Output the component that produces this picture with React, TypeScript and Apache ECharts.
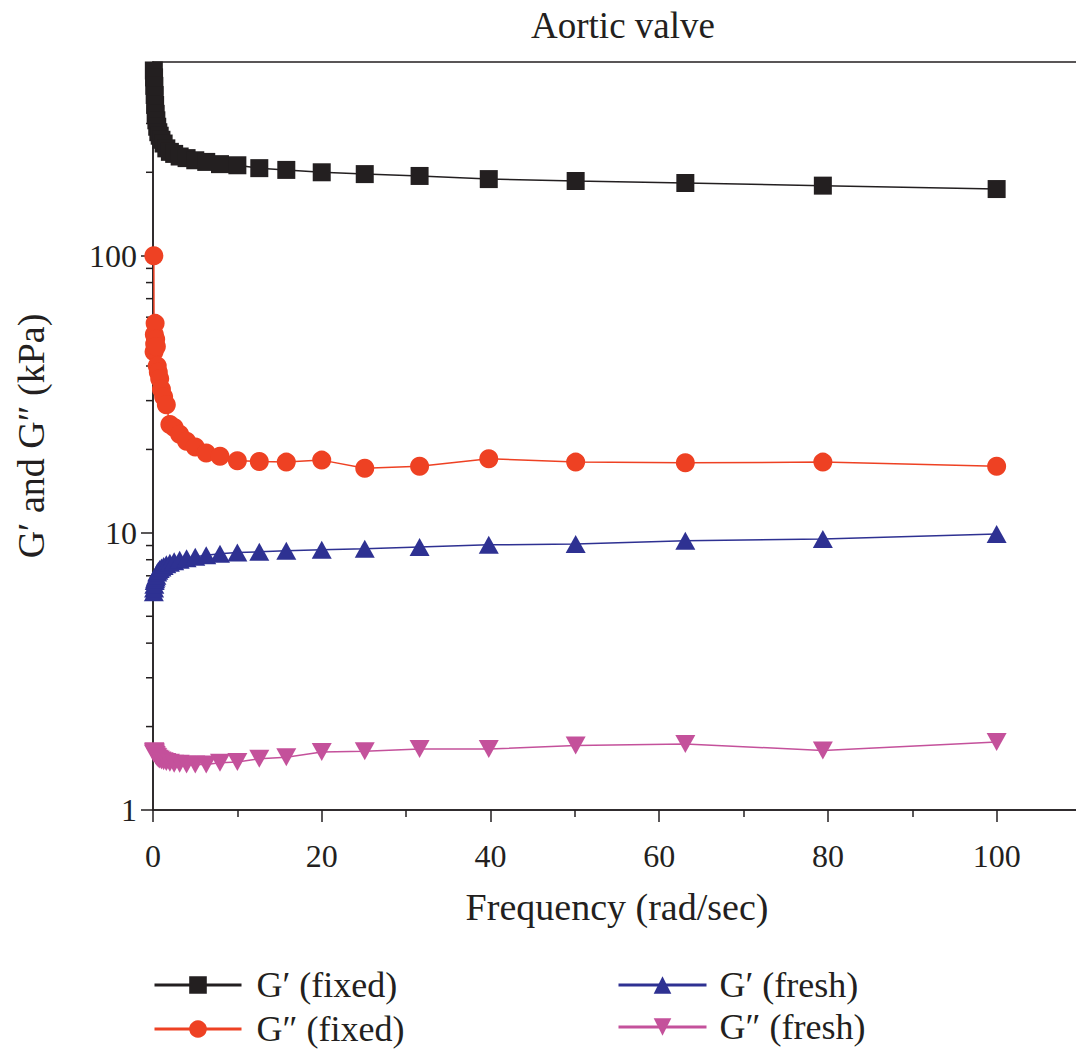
import React, { useEffect, useRef } from "react";
import * as echarts from "echarts";

const freq = [0.1, 0.126, 0.158, 0.2, 0.251, 0.316, 0.398, 0.501, 0.631, 0.794, 1, 1.26, 1.58, 2, 2.51, 3.16, 3.98, 5.01, 6.31, 7.94, 10, 12.6, 15.8, 20, 25.1, 31.6, 39.8, 50.1, 63.1, 79.4, 100];
const gPrimeFixed = [466, 440, 410, 380, 350, 325, 308, 292, 279, 271, 262, 254, 244, 237, 233, 228, 225, 221, 218, 214, 212, 207, 204, 200, 197, 194, 189, 186, 183, 179, 174];
const gDoublePrimeFixed = [100, 45, 52, 48, 57, 50, 47, 40, 38, 36, 33, 31, 29, 24.6, 24, 22.7, 21.4, 20.4, 19.4, 18.9, 18.2, 18.1, 18.0, 18.3, 17.1, 17.4, 18.5, 18.0, 17.9, 18.0, 17.4];
const gPrimeFresh = [6.1, 6.3, 6.5, 6.7, 6.8, 6.9, 7.0, 7.2, 7.3, 7.4, 7.5, 7.6, 7.7, 7.8, 7.9, 8.0, 8.1, 8.2, 8.3, 8.4, 8.49, 8.54, 8.61, 8.69, 8.76, 8.9, 9.05, 9.12, 9.36, 9.5, 9.9];
const gDoublePrimeFresh = [1.6, 1.62, 1.63, 1.62, 1.6, 1.58, 1.56, 1.55, 1.53, 1.52, 1.51, 1.5, 1.49, 1.48, 1.47, 1.47, 1.46, 1.46, 1.46, 1.48, 1.49, 1.53, 1.55, 1.62, 1.63, 1.66, 1.66, 1.71, 1.73, 1.64, 1.76];

const xTicks = [0, 20, 40, 60, 80, 100];
const yMinorTicks = [2, 3, 4, 5, 6, 7, 8, 9, 20, 30, 40, 50, 60, 70, 80, 90, 200, 300, 400];

const names = ["G\u2032 (fixed)", "G\u2033 (fixed)", "G\u2032 (fresh)", "G\u2033 (fresh)"];
const colors = ["#231f20", "#ee4123", "#2e3192", "#c4519b"];

const FONT = "'Liberation Serif', 'DejaVu Serif', serif";
const INK = "#231f20";

export default function App() {
  const ref = useRef<HTMLDivElement>(null);
  useEffect(() => {
    if (!ref.current) return;
    const chart = echarts.init(ref.current, undefined, { renderer: "svg" });
    const pair = (vals: number[]) => freq.map((f, i) => [f, vals[i]]);
    const downTri = "path://M0,0L20,0L10,17.3Z";
    const mk = (i: number, vals: number[], symbol: string, size: any) => ({
      name: names[i],
      type: "line",
      data: pair(vals),
      symbol,
      symbolSize: size,
      lineStyle: { color: colors[i], width: 1.5 },
      itemStyle: { color: colors[i] },
      z: 3,
    });
    const legendText = { fontFamily: FONT, fontSize: 36, color: INK, lineHeight: 38 };
    const leg = (name: string, left: number, top: number, w: number, pad: number) => ({
      left, top, orient: "horizontal", itemWidth: w, itemHeight: 22, padding: 0,
      data: [name],
      lineStyle: { width: 3 },
      textStyle: { ...legendText, padding: [0, 0, 0, pad] },
    });
    chart.setOption({
      animation: false,
      title: {
        text: "Aortic valve",
        left: 618,
        textAlign: "center",
        top: 2,
        textStyle: { fontFamily: FONT, fontSize: 37, fontWeight: "normal", color: INK },
      },
      grid: {
        left: 153, top: 62, width: 928, height: 748,
        show: true, borderColor: INK, borderWidth: 1.5, backgroundColor: "transparent",
        outerBoundsMode: "none",
        containLabel: false,
      },
      xAxis: {
        type: "value",
        min: 0,
        max: 110,
        interval: 20,
        axisLine: { lineStyle: { color: INK, width: 1.5 } },
        axisTick: { show: true, inside: false, length: 12, lineStyle: { color: INK, width: 1.5 } },
        minorTick: { show: true, splitNumber: 2, length: 7, lineStyle: { color: INK, width: 1.5 } },
        splitLine: { show: false },
        axisLabel: {
          fontFamily: FONT, fontSize: 32, color: INK, margin: 30,
          formatter: (v: number) => (xTicks.includes(v) ? String(v) : ""),
        },
        name: "Frequency (rad/sec)",
        nameLocation: "middle",
        nameGap: 78,
        nameTextStyle: { fontFamily: FONT, fontSize: 38, color: INK },
      },
      yAxis: {
        type: "log",
        logBase: 10,
        min: 1,
        max: 500,
        interval: 1,
        axisLine: { lineStyle: { color: INK, width: 1.5 } },
        axisTick: { show: true, inside: false, length: 12, lineStyle: { color: INK, width: 1.5 } },
        splitLine: { show: false },
        axisLabel: { fontFamily: FONT, fontSize: 32, color: INK, margin: 16, showMaxLabel: false },
      },
      legend: [
        leg(names[0], 153, 966, 87, 10),
        leg(names[1], 153, 1010, 87, 10),
        leg(names[2], 617, 966, 88, 8),
        leg(names[3], 617, 1008, 88, 8),
      ],
      graphic: [
        {
          type: "text",
          x: 31,
          y: 436,
          rotation: Math.PI / 2,
          style: {
            text: "G\u2032 and G\u2033 (kPa)",
            fontFamily: FONT,
            fontSize: 38,
            fill: INK,
            align: "center",
            verticalAlign: "middle",
          },
        },
      ],
      series: [
        mk(0, gPrimeFixed, "rect", 18),
        mk(1, gDoublePrimeFixed, "circle", 19),
        mk(2, gPrimeFresh, "triangle", [20, 18]),
        mk(3, gDoublePrimeFresh, downTri, [20, 18]),
        {
          type: "custom",
          name: "minorTicks",
          silent: true,
          data: yMinorTicks.map((v) => [0, v]),
          renderItem: (_p: any, api: any) => {
            const pt = api.coord([0, api.value(1)]);
            return {
              type: "line",
              shape: { x1: pt[0] - 7, y1: pt[1], x2: pt[0], y2: pt[1] },
              style: { stroke: INK, lineWidth: 1.5 },
            };
          },
          z: 1,
        },
      ],
    });
    return () => chart.dispose();
  }, []);
  return <div ref={ref} style={{ position: "absolute", left: 0, top: 0, width: 1076, height: 1052 }} />;
}
